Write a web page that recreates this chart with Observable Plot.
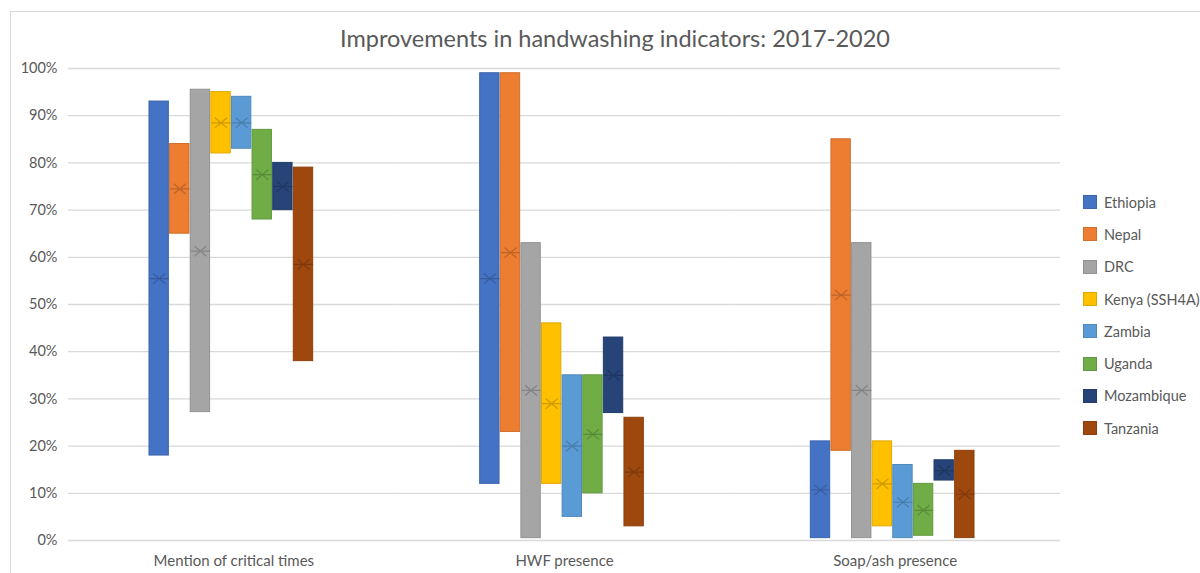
<!DOCTYPE html>
<html>
<head>
<meta charset="utf-8">
<script src="https://cdn.jsdelivr.net/npm/d3@7"></script>
<script src="https://cdn.jsdelivr.net/npm/@observablehq/plot@0.6"></script>
<style>
  html, body { margin: 0; padding: 0; background: #fff; overflow: hidden; }
  #wrap { position: relative; width: 1200px; height: 573px; overflow: hidden; font-family: Lato, "Open Sans", sans-serif; }
  #border { position: absolute; left: 10px; top: 11px; width: 1260px; height: 620px; border: 1px solid #d9d9d9; box-sizing: border-box; }
  #title { position: absolute; left: 0; top: 23px; width: 1230px; text-align: center; font-size: 23.5px; line-height: 30px; color: #595959; }
  #chart { position: absolute; left: 0; top: 0; }
  #legend { position: absolute; left: 1083px; top: 186px; }
  .item { display: flex; align-items: center; height: 32.3px; font-size: 14.5px; color: #595959; }
  .sw { width: 14px; height: 14px; margin-right: 7px; box-sizing: border-box; }
</style>
</head>
<body>
<div id="wrap">
  <div id="border"></div>
  <div id="chart"></div>
  <div id="title"></div>
  <div id="legend"></div>
</div>
<script>
// ---- Data ----
const chartTitle = "Improvements in handwashing indicators: 2017-2020";
const indicators = ["Mention of critical times", "HWF presence", "Soap/ash presence"];
const countries = ["Ethiopia", "Nepal", "DRC", "Kenya (SSH4A)", "Zambia", "Uganda", "Mozambique", "Tanzania"];
const yTicks = [0, 10, 20, 30, 40, 50, 60, 70, 80, 90, 100];

// values in % (low end, high end, marker) per country
const mentionLow  = [18, 65, 27.2, 82, 83, 68, 70, 38];
const mentionHigh = [93, 84, 95.5, 95, 94, 87, 80, 79];
const mentionMark = [55.5, 74.5, 61.3, 88.5, 88.5, 77.5, 75, 58.5];

const hwfLow  = [12, 23, 0.5, 12, 5, 10, 27, 3];
const hwfHigh = [99, 99, 63, 46, 35, 35, 43, 26];
const hwfMark = [55.5, 61, 31.8, 29, 20, 22.5, 35, 14.5];

const soapLow  = [0.5, 19, 0.5, 3, 0.5, 1, 12.7, 0.5];
const soapHigh = [21, 85, 63, 21, 16, 12, 17, 19];
const soapMark = [10.7, 52, 31.8, 12, 8.1, 6.4, 14.8, 9.8];

const palette = ["#4472C4", "#ED7D31", "#A5A5A5", "#FFC000", "#5B9BD5", "#70AD47", "#264478", "#9E480E"];

// ---- Build table ----
const lows = [mentionLow, hwfLow, soapLow];
const highs = [mentionHigh, hwfHigh, soapHigh];
const marks = [mentionMark, hwfMark, soapMark];
const rows = indicators.flatMap((ind, i) => countries.map((c, j) => ({
  indicator: ind, country: c, low: lows[i][j], high: highs[i][j], mark: marks[i][j]
})));
const colorOf = new Map(countries.map((c, j) => [c, palette[j]]));
const darker = (c, k) => d3.color(c).darker(k).formatHex();

const markerSymbol = {
  draw(ctx, size) {
    const r = Math.sqrt(size / Math.PI);
    ctx.moveTo(-r, -0.85 * r); ctx.lineTo(r, 0.85 * r);
    ctx.moveTo(-r, 0.85 * r); ctx.lineTo(r, -0.85 * r);
    ctx.moveTo(-1.6 * r, 0); ctx.lineTo(1.6 * r, 0);
  }
};

const chart = Plot.plot({
  width: 1200,
  height: 573,
  marginTop: 68,
  marginBottom: 33,
  marginLeft: 68,
  marginRight: 140,
  style: { fontFamily: "Lato, 'Open Sans', sans-serif", fontSize: "14px", color: "#595959", background: "transparent" },
  fx: { domain: indicators, padding: 0, round: false },
  x: { domain: countries, paddingInner: 0.06, paddingOuter: 4.05, align: 0.485, round: false, axis: null },
  y: { domain: [0, 100], axis: null },
  color: { domain: countries, range: palette },
  marks: [
    Plot.ruleY(yTicks, { stroke: "#d9d9d9", strokeWidth: 1.3 }),
    Plot.axisY({ ticks: yTicks, tickFormat: d => d + "%", tickSize: 0, tickPadding: 11, line: true, stroke: "#d9d9d9", fill: "#595959", fontSize: 14.5, label: null }),
    Plot.axisFx({ anchor: "bottom", tickSize: 0, tickPadding: 15, fontSize: 15, fill: "#595959", label: null }),
    Plot.barY(rows, {
      fx: "indicator", x: "country", y1: "low", y2: "high",
      fill: "country",
      stroke: d => darker(colorOf.get(d.country), 0.35),
      strokeWidth: 1
    }),
    Plot.dot(rows, {
      fx: "indicator", x: "country", y: "mark",
      r: 6, symbol: markerSymbol, fill: "none",
      stroke: d => darker(colorOf.get(d.country), 0.8),
      strokeWidth: 1.2, strokeOpacity: 0.8
    })
  ]
});
document.getElementById("chart").appendChild(chart);
document.getElementById("title").textContent = chartTitle;

const legend = document.getElementById("legend");
countries.forEach((c, j) => {
  const item = document.createElement("div");
  item.className = "item";
  const sw = document.createElement("div");
  sw.className = "sw";
  sw.style.background = palette[j];
  sw.style.border = "1px solid " + darker(palette[j], 0.35);
  const label = document.createElement("span");
  label.textContent = c;
  item.appendChild(sw);
  item.appendChild(label);
  legend.appendChild(item);
});
</script>
</body>
</html>
